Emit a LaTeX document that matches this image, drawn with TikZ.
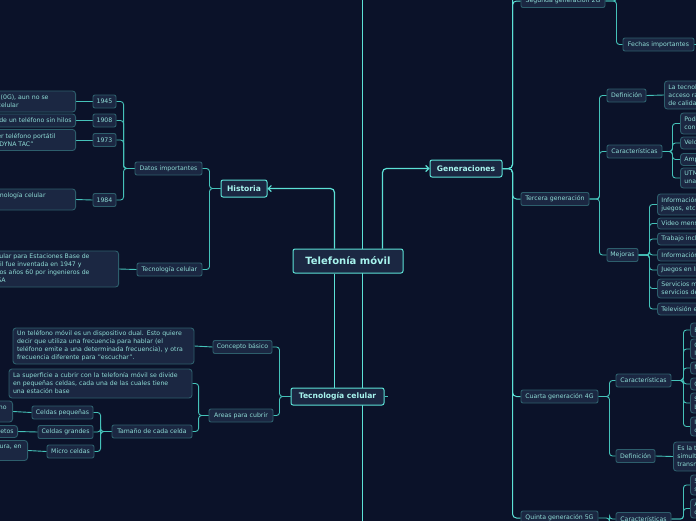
\documentclass[tikz,border=0pt]{standalone}
\usepackage{fontspec}
\setmainfont{DejaVu Sans}
\usetikzlibrary{arrows.meta,backgrounds}
\definecolor{bgc}{HTML}{0B1229}
\definecolor{nodefill}{HTML}{1B2742}
\definecolor{smallborder}{HTML}{2D5E6C}
\definecolor{mainborder}{HTML}{5CE1D6}
\definecolor{linecol}{HTML}{45C2B9}
\definecolor{brightline}{HTML}{5CE1D6}
\definecolor{smalltext}{HTML}{8FDCD6}
\definecolor{maintext}{HTML}{A8F4EE}
\tikzset{
  base/.style={rounded corners=2pt, fill=nodefill, inner sep=0pt, text=smalltext,
    font=\fontsize{6.2}{8}\selectfont},
  small/.style={base, draw=smallborder, line width=0.9pt, minimum height=13pt},
  mainn/.style={base, draw=mainborder, line width=1pt, text=maintext,
    font=\bfseries\fontsize{7.6}{9}\selectfont, minimum height=17pt},
  leaf/.style={base, draw=smallborder, line width=0.9pt, rounded corners=3pt,
    inner xsep=4pt, inner ysep=2pt},
  lleaf/.style={leaf, anchor=east, align=right},
  rleaf/.style={leaf, anchor=west, align=left},
  conn/.style={draw=linecol, line width=0.9pt, rounded corners=3pt},
  mainconn/.style={draw=brightline, line width=1.2pt, rounded corners=4pt},
  tip/.style={-{Straight Barb[length=3pt,width=6pt]}},
}
\newcommand\gp[1]{\rule{#1pt}{0pt}}
\begin{document}
\begin{tikzpicture}[x=1pt,y=-1pt]
\useasboundingbox (0,0) rectangle (696,520);
% ---------- main nodes
\node[mainn, minimum width=110pt, minimum height=24pt, font=\bfseries\fontsize{10}{12}\selectfont] (center) at (348,261) {Telefonía móvil};
\node[mainn, minimum width=46pt] (hist) at (244,188.5) {Historia};
\node[mainn, minimum width=72pt] (gen) at (466,168.5) {Generaciones};
\node[mainn, minimum width=93pt] (tec) at (337.5,396.5) {Tecnología celular};
% ---------- Historia
\node[small, minimum width=67pt] (datos) at (168.5,168.5) {Datos importantes};
\node[small, minimum width=65pt] (tecs) at (169.5,269.5) {Tecnología celular};
\node[small, minimum width=23pt] (y1945) at (104.5,101.5) {1945};
\node[small, minimum width=23pt] (y1908) at (104.5,120.5) {1908};
\node[small, minimum width=23pt] (y1973) at (104.5,140) {1973};
\node[small, minimum width=23pt] (y1984) at (104.5,200) {1984};
\node[lleaf, minimum height=21pt] (t1945) at (76,101.5) {Se crea la primera telefonía móvil (0G), aun no se\gp{23}\\ podía considerar como un teléfono celular\gp{53}};
\node[lleaf, minimum height=13pt] (t1908) at (76,120.5) {Se otorga la patente de un teléfono sin hilos};
\node[lleaf, minimum height=21pt] (t1973) at (76,140) {Motorola presenta el primer teléfono portátil\gp{16}\\ llamado "MOTOROLA DYNA TAC"\gp{38}};
\node[lleaf, minimum height=21pt] (t1984) at (76,199.5) {Se lanza al mercado la primera tecnología celular\gp{26}\\ (1G)\gp{120}};
\node[lleaf, minimum height=36pt] (ttec) at (119,269) {La idea de la telefonía celular para Estaciones Base de\gp{25}\\ La telefonía móvil fue inventada en 1947 y\gp{33}\\ desarrollada en los años 60 por ingenieros de\gp{25}\\ la AT\&T y la NASA\gp{109}};
% ---------- Tecnologia celular
\node[small, minimum width=59pt] (concepto) at (242.5,347) {Concepto básico};
\node[small, minimum width=64pt] (areas) at (241,415.5) {Areas para cubrir};
\node[leaf, text width=173pt, align=left, minimum height=36pt] (tconcepto) at (103.5,346) {Un teléfono móvil es un dispositivo dual. Esto quiere\\ decir que utiliza una frecuencia para hablar (el\\ teléfono emite a una determinada frecuencia), y otra\\ frecuencia diferente para "escuchar".};
\node[leaf, text width=175pt, align=left, minimum height=29pt] (tareas) at (100.5,383.5) {La superficie a cubrir con la telefonía móvil se divide\\ en pequeñas celdas, cada una de las cuales tiene\\ una estación base};
\node[small, minimum width=80pt] (tamano) at (152,431.5) {Tamaño de cada celda};
\node[small, minimum width=61pt] (cpeq) at (62.5,412.5) {Celdas pequeñas};
\node[small, minimum width=55pt] (cgra) at (65.5,432) {Celdas grandes};
\node[small, minimum width=47pt] (cmic) at (70.5,451.5) {Micro celdas};
\node[lleaf, minimum height=21pt] (tcpeq) at (13,411.5) {Se usan en zonas de mucho tráfico, como el centro urbano\gp{2}\\ de las grandes ciudades\gp{40}};
\node[lleaf, minimum height=12pt] (tcgra) at (18,431.5) {Zonas con pocos usuarios y pocos objetos};
\node[lleaf, minimum height=20pt] (tcmic) at (28,450.5) {Se usan en zonas de alta cobertura, en\gp{2}\\ interiores de edificios\gp{40}};
% ---------- Generaciones
\node[small, minimum width=84pt] (g2) at (563,1) {Segunda generación 2G};
\node[small, minimum width=71pt] (fechas) at (658.5,44.5) {Fechas importantes};
\node[small, minimum width=68pt] (g3) at (555,199) {Tercera generación};
\node[small, minimum width=39pt] (def3) at (626.5,95.5) {Definición};
\node[small, minimum width=55pt] (car3) at (634.5,151.5) {Características};
\node[small, minimum width=31pt] (mej) at (622.5,255) {Mejoras};
\node[rleaf, minimum height=28pt] (tdef3) at (664,95) {La tecnología 3G permite un\\ acceso rápido a internet\\ de calidad};
\node[rleaf, minimum height=21pt] (c3a) at (680,123.5) {Poder navegar en internet\\ con mayor rapidez};
\node[rleaf, minimum height=12pt] (c3b) at (680,143) {Velocidad de hasta 2 Mbps};
\node[rleaf, minimum height=12pt] (c3c) at (680,159.5) {Amplia cobertura};
\node[rleaf, minimum height=20pt] (c3d) at (680,178) {UTMS, que permite\\ una mejor conexión};
\node[rleaf, minimum height=21pt] (m1) at (657,204.5) {Información en tiempo real,\\ juegos, etc.};
\node[rleaf, minimum height=11pt] (m2) at (657,223.5) {Video mensajes};
\node[rleaf, minimum height=12pt] (m3) at (657,239) {Trabajo incluso fuera de la oficina};
\node[rleaf, minimum height=12pt] (m4) at (657,255) {Información del tráfico};
\node[rleaf, minimum height=12pt] (m5) at (657,270) {Juegos en línea};
\node[rleaf, minimum height=19pt] (m6) at (657,288.5) {Servicios multimedia y\\ servicios de localización};
\node[rleaf, minimum height=12pt] (m7) at (657,309) {Televisión en el móvil};
\node[small, minimum width=77pt] (g4) at (559.5,396.5) {Cuarta generación 4G};
\node[small, minimum width=55pt] (car4) at (643.5,380.5) {Características};
\node[small, minimum width=39pt] (def4) at (635.5,456) {Definición};
\node[rleaf, minimum height=29pt] (tdef4) at (673,456.5) {Es la tecnología que permite\\ simultáneamente voz y datos\\ transmitidos por IP};
\node[rleaf, minimum height=14pt] (c4a) at (690,330) {Banda ancha móvil};
\node[rleaf, minimum height=20pt] (c4b) at (690,349) {Conexión total a\\ Internet};
\node[rleaf, minimum height=12pt] (c4c) at (690,368) {Mayor velocidad};
\node[rleaf, minimum height=12pt] (c4d) at (690,384) {Calidad de voz};
\node[rleaf, minimum height=20pt] (c4e) at (690,403) {Soporte de\\ banda ancha};
\node[rleaf, minimum height=19pt] (c4f) at (690,426.5) {Integración de\\ comunicaciones};
\node[small, minimum width=77pt, minimum height=14pt] (g5) at (559.5,518) {Quinta generación 5G};
\node[small, minimum width=55pt] (car5) at (643.5,519) {Características};
\node[rleaf, minimum height=20pt] (c5a) at (690,485) {5 veces más rápido\\ su antecesor};
\node[rleaf, minimum height=19pt] (c5b) at (690,508.5) {Aumenta la capacidad\\ de conexión};
% free ends
\coordinate (ltop) at (362.5,-5);
\coordinate (lbot) at (362.5,525);
\coordinate (g2up) at (616,-20);
% ---------- connectors
\begin{pgfonlayer}{background}
\fill[bgc] (-20,-20) rectangle (716,540);
\draw[mainconn] (ltop) -- (lbot);
\draw[mainconn,tip] ([xshift=42pt]center.north west) |- (hist.east);
\draw[mainconn,tip] ([xshift=90pt]center.north west) |- (gen.west);
\draw[mainconn] ([xshift=42pt]center.south west) -- ([xshift=42pt]center.south west |- tec.north);
\draw[conn] (tec.east) -- ++(3,0);
% Historia
\draw[conn] (hist.west) -- ++(-11,0) |- (datos.east);
\draw[conn] (hist.west) -- ++(-11,0) |- (tecs.east);
\foreach \y in {y1945,y1908,y1973,y1984}{
  \draw[conn] (datos.west) -- ++(-11,0) |- (\y.east);
}
\draw[conn] (y1945.west) -- (t1945.east);
\draw[conn] (y1908.west) -- (t1908.east);
\draw[conn] (y1973.west) -- (t1973.east);
\draw[conn] (y1984.west) -- (t1984.east);
\draw[conn] (tecs.west) -- (ttec.east);
% Tecnologia celular
\draw[conn] (tec.west) -- ++(-11,0) |- (concepto.east);
\draw[conn] (tec.west) -- ++(-11,0) |- (areas.east);
\draw[conn] (concepto.west) -- (tconcepto.east);
\draw[conn] (areas.west) -- ++(-10,0) |- (tareas.east);
\draw[conn] (areas.west) -- ++(-10,0) |- (tamano.east);
\foreach \c in {cpeq,cgra,cmic}{
  \draw[conn] (tamano.west) -- ++(-11,0) |- (\c.east);
}
\draw[conn] (cpeq.west) -- (tcpeq.east);
\draw[conn] (cgra.west) -- (tcgra.east);
\draw[conn] (cmic.west) -- (tcmic.east);
% Generaciones
\foreach \g in {g2,g3,g4,g5}{
  \draw[mainconn, line width=1pt] (gen.east) -- ++(10,0) |- (\g.west);
}
\draw[mainconn, line width=1pt] (gen.east) -- ++(10,0) -- ++(0,-180);
\draw[conn] (g2.east) -- ++(11,0) |- (fechas.west);
\draw[conn] (g2.east) -- ++(11,0) -- (g2up);
\draw[conn] (fechas.east) -- ++(4,0);
\foreach \c in {def3,car3,mej}{
  \draw[conn] (g3.east) -- ++(10,0) |- (\c.west);
}
\draw[conn] (def3.east) -- (tdef3.west);
\foreach \c in {c3a,c3b,c3c,c3d}{
  \draw[conn] (car3.east) -- ++(10,0) |- (\c.west);
}
\foreach \c in {m1,m2,m3,m4,m5,m6,m7}{
  \draw[conn] (mej.east) -- ++(11,0) |- (\c.west);
}
\foreach \c in {car4,def4}{
  \draw[conn] (g4.east) -- ++(11,0) |- (\c.west);
}
\draw[conn] (def4.east) -- (tdef4.west);
\foreach \c in {c4a,c4b,c4c,c4d,c4e,c4f}{
  \draw[conn] (car4.east) -- ++(12,0) |- (\c.west);
}
\draw[conn] (g5.east) -- ++(11,0) |- (car5.west);
\foreach \c in {c5a,c5b}{
  \draw[conn] (car5.east) -- ++(12,0) |- (\c.west);
}
\end{pgfonlayer}
\end{tikzpicture}
\end{document}
